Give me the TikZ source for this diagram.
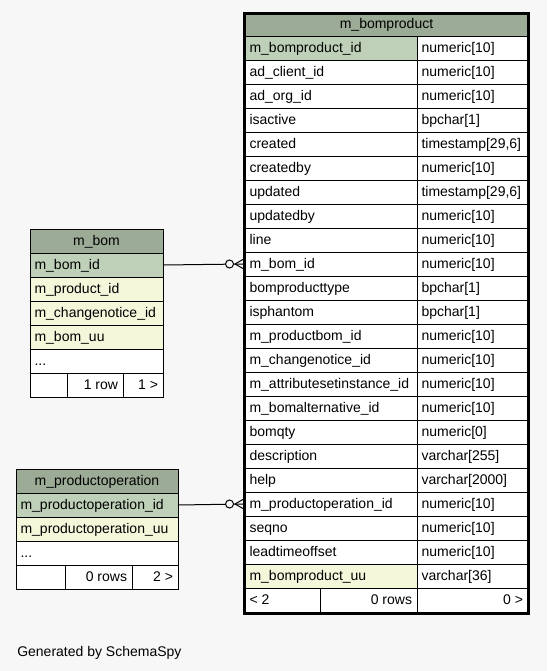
\documentclass[tikz,border=0pt]{standalone}
\usepackage{fontspec}
\setmainfont{Liberation Sans}
\definecolor{bgc}{HTML}{F7F7F7}
\definecolor{hdr}{HTML}{9BAB96}
\definecolor{pkc}{HTML}{BED1B8}
\definecolor{idx}{HTML}{F4F7DA}
\newcommand{\tcell}[5]{% name, x, ytop, width(px), fill
  \node[cellbox, fill=#5, minimum width=#4*0.75pt] (#1) at (#2,#3) {};}
\newcommand{\ltext}[2]{\node[lbl, anchor=base west] at ([xshift=3.2pt,yshift=-3.5pt]#1.west) {#2};}
\newcommand{\rtext}[2]{\node[lbl, anchor=base east] at ([xshift=-3.5pt,yshift=-3.5pt]#1.east) {#2};}
\newcommand{\ctext}[2]{\node[lbl, anchor=base] at ([yshift=-3.5pt]#1.center) {#2};}
\begin{document}
\begin{tikzpicture}[x=0.75pt,y=-0.75pt,
  cellbox/.style={draw=black, line width=0.75pt, anchor=north west, minimum height=18pt, inner sep=0pt, outer sep=0pt},
  lbl/.style={font=\fontsize{10.5pt}{12pt}\selectfont, inner sep=0pt, text=black},
  conn/.style={draw=black, line width=0.75pt},
  circ/.style={circle, draw=black, fill=bgc, line width=0.75pt, minimum size=6pt, inner sep=0pt}]
\fill[bgc] (0,0) rectangle (547,671);
\useasboundingbox (0,0) rectangle (547,671);

% ---------- m_bomproduct ----------
\tcell{bphead}{245}{12}{283}{hdr}
\ctext{bphead}{m\_bomproduct}
\foreach \n/\t/\f [count=\i] in {
  m\_bomproduct\_id/numeric[10]/pkc,
  ad\_client\_id/numeric[10]/white,
  ad\_org\_id/numeric[10]/white,
  isactive/bpchar[1]/white,
  created/timestamp[29{,}6]/white,
  createdby/numeric[10]/white,
  updated/timestamp[29{,}6]/white,
  updatedby/numeric[10]/white,
  line/numeric[10]/white,
  m\_bom\_id/numeric[10]/white,
  bomproducttype/bpchar[1]/white,
  isphantom/bpchar[1]/white,
  m\_productbom\_id/numeric[10]/white,
  m\_changenotice\_id/numeric[10]/white,
  m\_attributesetinstance\_id/numeric[10]/white,
  m\_bomalternative\_id/numeric[10]/white,
  bomqty/numeric[0]/white,
  description/varchar[255]/white,
  help/varchar[2000]/white,
  m\_productoperation\_id/numeric[10]/white,
  seqno/numeric[10]/white,
  leadtimeoffset/numeric[10]/white,
  m\_bomproduct\_uu/varchar[36]/idx}{
  \pgfmathsetmacro\yy{36+24*(\i-1)}
  \tcell{bp-\i}{245}{\yy}{172}{\f}
  \tcell{bpt-\i}{417}{\yy}{111}{white}
  \ltext{bp-\i}{\n}
  \ltext{bpt-\i}{\t}
}
\tcell{bpf1}{245}{588}{75}{white}
\tcell{bpf2}{320}{588}{97}{white}
\tcell{bpf3}{417}{588}{111}{white}
\ltext{bpf1}{< 2}
\rtext{bpf2}{0 rows}
\rtext{bpf3}{0 >}
\draw[black, line width=2.25pt] (244.5,13.5) rectangle (528.5,613.5);

% ---------- m_bom ----------
\tcell{bomhead}{30}{229}{133}{hdr}
\ctext{bomhead}{m\_bom}
\tcell{bomid}{30}{253}{133}{pkc}
\ltext{bomid}{m\_bom\_id}
\tcell{bomprod}{30}{277}{133}{idx}
\ltext{bomprod}{m\_product\_id}
\tcell{bomchg}{30}{301}{133}{idx}
\ltext{bomchg}{m\_changenotice\_id}
\tcell{bomuu}{30}{325}{133}{idx}
\ltext{bomuu}{m\_bom\_uu}
\tcell{bomdots}{30}{349}{133}{white}
\ltext{bomdots}{...}
\tcell{bomf1}{30}{373}{37}{white}
\tcell{bomf2}{67}{373}{56}{white}
\tcell{bomf3}{123}{373}{40}{white}
\rtext{bomf2}{1 row}
\rtext{bomf3}{1 >}

% ---------- m_productoperation ----------
\tcell{pohead}{16}{469}{162}{hdr}
\ctext{pohead}{m\_productoperation}
\tcell{poid}{16}{493}{162}{pkc}
\ltext{poid}{m\_productoperation\_id}
\tcell{pouu}{16}{517}{162}{idx}
\ltext{pouu}{m\_productoperation\_uu}
\tcell{podots}{16}{541}{162}{white}
\ltext{podots}{...}
\tcell{pof1}{16}{565}{49}{white}
\tcell{pof2}{65}{565}{67}{white}
\tcell{pof3}{132}{565}{46}{white}
\rtext{pof2}{0 rows}
\rtext{pof3}{2 >}

% ---------- connectors ----------
\foreach \src/\dst in {bomid/bp-10, poid/bp-20}{
  \draw[conn] (\src.east) -- ([xshift=-1.5pt]\dst.west);
  \draw[conn] ([xshift=-7.5pt]\dst.west) -- ([xshift=-1.5pt,yshift=3.4pt]\dst.west);
  \draw[conn] ([xshift=-7.5pt]\dst.west) -- ([xshift=-1.5pt,yshift=-3.4pt]\dst.west);
  \node[circ] at ([xshift=-11.6pt]\dst.west) {};
}

\node[lbl, anchor=base west] (gen) at (17,656) {Generated by SchemaSpy};
\end{tikzpicture}
\end{document}
